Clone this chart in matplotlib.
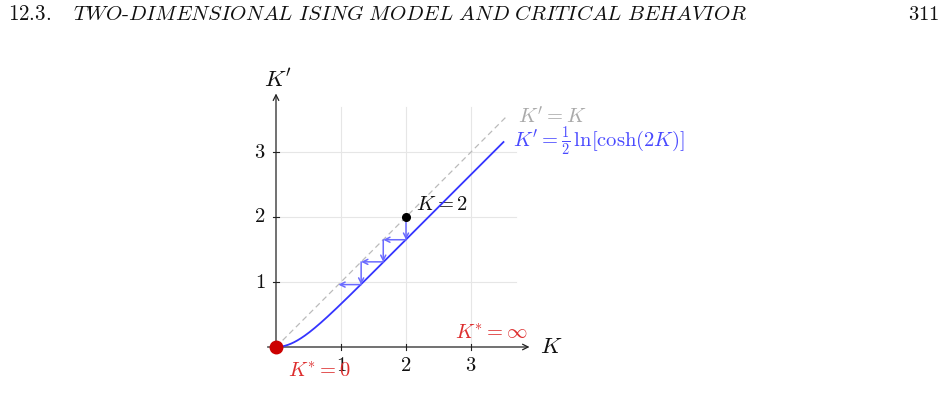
import numpy as np
import matplotlib
matplotlib.use("Agg")
import matplotlib.pyplot as plt
from matplotlib.patches import FancyArrowPatch

plt.rcParams['mathtext.fontset'] = 'cm'
plt.rcParams['font.family'] = ['DejaVu Serif']

# ---- data ----
tick_values = [1, 2, 3]
tick_labels = ["1", "2", "3"]
K_curve = np.linspace(0.0, 3.5, 300)
Kp_curve = 0.5 * np.log(np.cosh(2 * K_curve))   # K' = 1/2 ln cosh(2K)
identity_end = 3.55
staircase = [2.0, 1.65, 1.31, 0.96]
start_point = (2.0, 2.0)
fixed_point = (0.0, 0.0)

# ---- figure ----
W, H = 945, 407
fig = plt.figure(figsize=(W / 100, H / 100), dpi=100)
ox, oy, s = 276, 347, 65.0
ax = fig.add_axes([0, 0, 1, 1])
ax.set_xlim(-ox / s, (W - ox) / s)
ax.set_ylim(-(H - oy) / s, oy / s)
ax.axis('off')

FS = 14.8
grid_c = '#e6e6e6'
gmax = 3.7
for v in tick_values:
    ax.plot([v, v], [0, gmax], color=grid_c, lw=0.8, zorder=1)
    ax.plot([0, gmax], [v, v], color=grid_c, lw=0.8, zorder=1)

# axes with arrows
axc = '#222222'
ax.annotate('', xy=(3.9, 0), xytext=(-0.13, 0),
            arrowprops=dict(arrowstyle='->', color=axc, lw=0.9, shrinkA=0, shrinkB=0,
                            mutation_scale=10), zorder=3)
ax.annotate('', xy=(0, 3.9), xytext=(0, -0.1),
            arrowprops=dict(arrowstyle='->', color=axc, lw=0.9, shrinkA=0, shrinkB=0,
                            mutation_scale=10), zorder=3)
t = 3 / s
for v, lab in zip(tick_values, tick_labels):
    ax.plot([v, v], [-t, t], color=axc, lw=0.8, zorder=3)
    ax.plot([-t, t], [v, v], color=axc, lw=0.8, zorder=3)
    ax.text(v, -0.28, '$' + lab + '$', ha='center', va='center', fontsize=FS, color='#111111')
    ax.text(-0.16, v, '$' + lab + '$', ha='right', va='center', fontsize=FS, color='#111111')

ax.text(4.06, 0.0, '$K$', ha='left', va='center', fontsize=16.5, color='#111111')
ax.text(0.03, 4.1, "$K'$", ha='center', va='center', fontsize=16.5, color='#111111')

# identity line
ax.plot([0, identity_end], [0, identity_end], color='#bbbbbb', lw=0.9,
        dashes=(4.5, 3), zorder=2)
# curve
ax.plot(K_curve, Kp_curve, color='#3535ff', lw=1.3, zorder=4)

# staircase
stc = '#6b6bff'
for i in range(len(staircase) - 1):
    a, b = staircase[i], staircase[i + 1]
    for (p0, p1) in [((a, a), (a, b)), ((a, b), (b, b))]:
        arr = FancyArrowPatch(p0, p1, arrowstyle='->', color=stc, lw=1.1,
                              mutation_scale=9, shrinkA=0, shrinkB=0, zorder=5)
        ax.add_patch(arr)

# points
ax.plot(*start_point, 'o', color='black', ms=5.5, zorder=6)
ax.plot(*fixed_point, 'o', color='#cc0000', ms=9, zorder=6)

# labels
ax.text(3.72, 3.55, "$K' = K$", color='#aaaaaa', fontsize=FS, ha='left', va='center')
ax.text(3.65, 3.15, r"$K' = \frac{1}{2}\,\ln[\cosh(2K)]$", color='#4a4aff',
        fontsize=FS, ha='left', va='center')
ax.text(2.15, 2.2, "$K = 2$", color='#111111', fontsize=FS, ha='left', va='center')
ax.text(0.18, -0.37, "$K^{*} = 0$", color='#dd2e2e', fontsize=FS, ha='left', va='center', zorder=7)
ax.text(2.75, 0.215, r"$K^{*} = \infty$", color='#dd2e2e', fontsize=FS, ha='left', va='center')

# running header
fig.text(8 / W, 1 - 14 / H,
         r"$\mathit{12.3.}\quad\mathit{TWO}\text{-}\mathit{DIMENSIONAL\ ISING\ MODEL\ AND\ CRITICAL\ BEHAVIOR}$",
         fontsize=15.1, ha='left', va='center', color='#111111')
fig.text(939 / W, 1 - 14 / H, '$311$', fontsize=FS, ha='right', va='center', color='#111111')

fig.savefig('out.png', dpi=100)
